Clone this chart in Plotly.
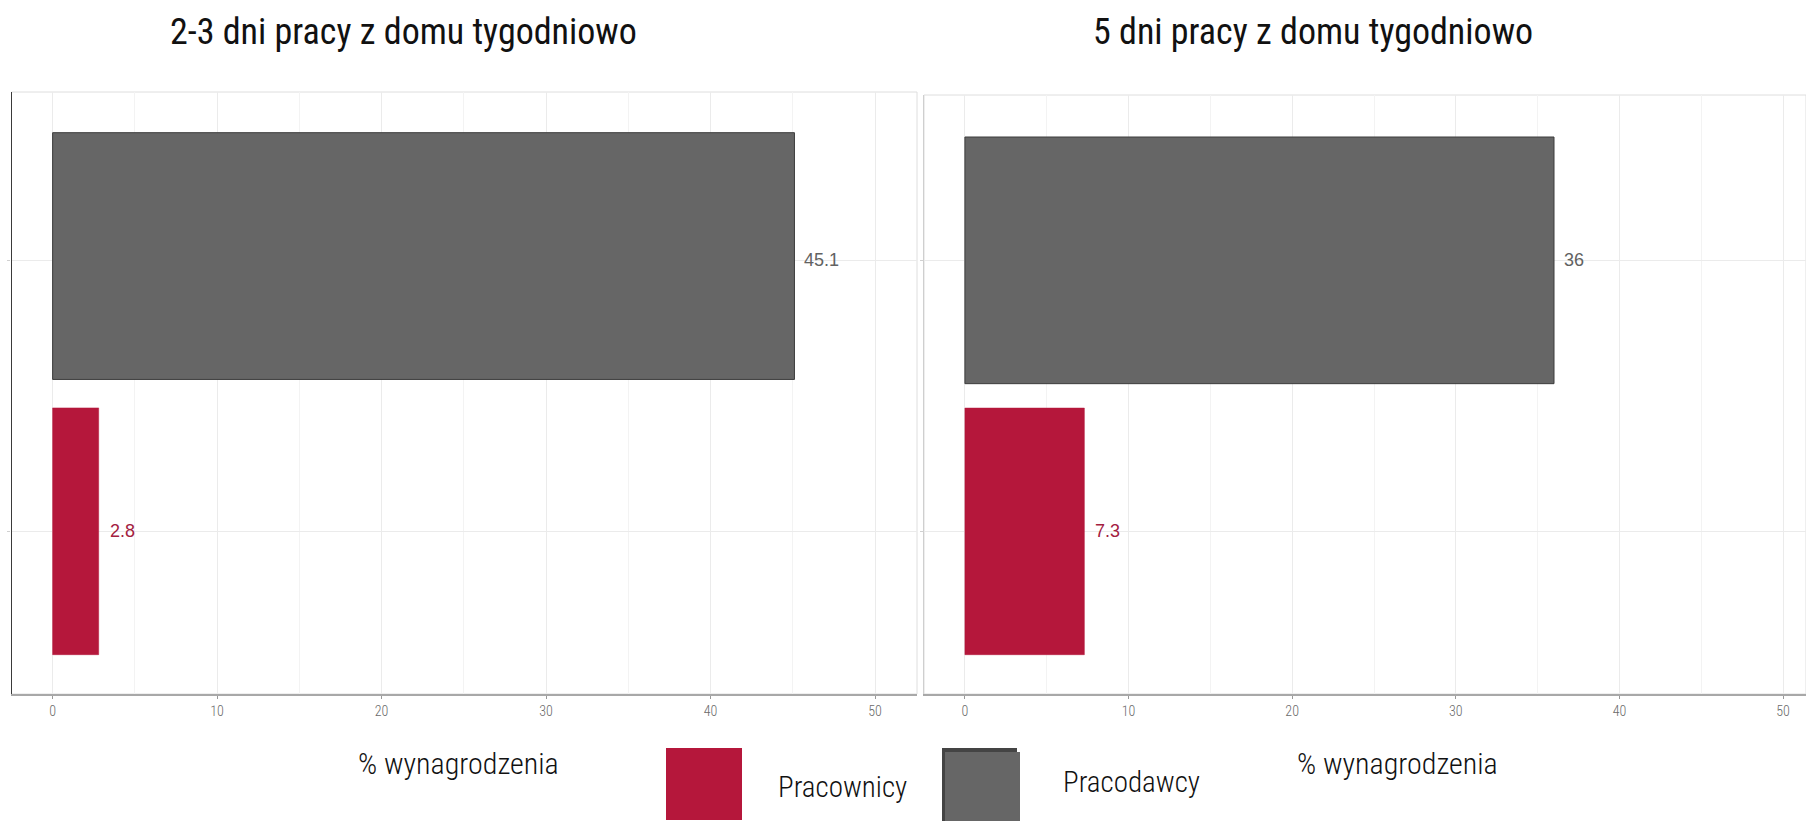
import plotly.graph_objects as go

# ---- data ----
categories = ["Pracownicy", "Pracodawcy"]
series_names = ["Pracownicy", "Pracodawcy"]
panel_titles = ["2-3 dni pracy z domu tygodniowo", "5 dni pracy z domu tygodniowo"]
pracownicy_vals = [2.8, 7.3]     # left panel, right panel
pracodawcy_vals = [45.1, 36.0]
x_tickvals = [0, 10, 20, 30, 40, 50]
x_ticktext = ["0", "10", "20", "30", "40", "50"]
axis_title = "% wynagrodzenia"

RED = "#b5173b"
GRAY = "#666666"
W, H = 1806, 821
COND = "Roboto Condensed, Liberation Sans Narrow, DejaVu Sans Condensed, Arial Narrow, sans-serif"

fig = go.Figure()

panels = [
    dict(xa="x", ya="y", xdom=[11.5 / W, 917 / W], ydom=[1 - 694 / H, 1 - 92 / H],
         xrange=[-2.5, 52.55], yrange=[-0.6, 1.62], yline="#3a3a3a", goff=-0.44),
    dict(xa="x2", ya="y2", xdom=[924 / W, 1.0], ydom=[1 - 694 / H, 1 - 95 / H],
         xrange=[-2.5, 51.4], yrange=[-0.6, 1.61], yline="#cfcfcf", goff=-0.455),
]

for i, p in enumerate(panels):
    fig.add_trace(go.Bar(
        x=[pracodawcy_vals[i]], y=[categories[1]], orientation="h",
        marker=dict(color=GRAY, line=dict(color="#3d3d3d", width=1)),
        width=0.91, offset=p["goff"], name=series_names[1], showlegend=False,
        xaxis=p["xa"], yaxis=p["ya"]))
    fig.add_trace(go.Bar(
        x=[pracownicy_vals[i]], y=[categories[0]], orientation="h",
        marker=dict(color=RED, line=dict(color=RED, width=0.5)),
        width=0.91, name=series_names[0], showlegend=False,
        xaxis=p["xa"], yaxis=p["ya"]))
    # value labels
    fig.add_annotation(x=pracodawcy_vals[i], y=categories[1], xref=p["xa"], yref=p["ya"],
                       text=f"{pracodawcy_vals[i]:g}", showarrow=False, xanchor="left",
                       xshift=8, font=dict(family="Liberation Sans, Arial", size=18, color="#626262"))
    fig.add_annotation(x=pracownicy_vals[i], y=categories[0], xref=p["xa"], yref=p["ya"],
                       text=f"{pracownicy_vals[i]:g}", showarrow=False, xanchor="left",
                       xshift=9, font=dict(family="Liberation Sans, Arial", size=18, color="#a3203f"))
    # panel frame (light)
    fig.add_shape(type="rect", xref=f"{p['xa']} domain", yref=f"{p['ya']} domain",
                  x0=0, x1=1, y0=0, y1=1, line=dict(color="#dedede", width=1), layer="below")

axis_common_x = dict(
    tickvals=x_tickvals, ticktext=x_ticktext, showgrid=True, gridcolor="#ebebeb", gridwidth=1,
    minor=dict(dtick=5, tick0=5, showgrid=True, gridcolor="#f3f3f3", gridwidth=1),
    showline=True, linecolor="#a8a8a8", linewidth=1.5, ticks="outside", ticklen=3,
    tickcolor="#999999", tickfont=dict(family=COND, size=14, color="#6a6a6a", weight=300),
    zeroline=False, fixedrange=True)
axis_common_y = dict(
    type="category", categoryorder="array", categoryarray=categories,
    showgrid=True, gridcolor="#ebebeb", gridwidth=1, showticklabels=False,
    ticks="outside", ticklen=3, tickcolor="#d0d0d0", zeroline=False, showline=True, linewidth=1.2)

fig.update_layout(
    xaxis=dict(domain=panels[0]["xdom"], range=panels[0]["xrange"], anchor="y", **axis_common_x),
    yaxis=dict(domain=panels[0]["ydom"], range=panels[0]["yrange"], anchor="x",
               linecolor=panels[0]["yline"], **axis_common_y),
    xaxis2=dict(domain=panels[1]["xdom"], range=panels[1]["xrange"], anchor="y2", **axis_common_x),
    yaxis2=dict(domain=panels[1]["ydom"], range=panels[1]["yrange"], anchor="x2",
                linecolor=panels[1]["yline"], **axis_common_y),
    barmode="overlay",
    width=W, height=H, margin=dict(l=0, r=0, t=0, b=0),
    paper_bgcolor="white", plot_bgcolor="white", showlegend=False,
)

# panel titles
for cx, t in zip([403, 1313], panel_titles):
    fig.add_annotation(x=cx / W, y=1 - 32 / H, xref="paper", yref="paper", text=t,
                       showarrow=False, xanchor="center", yanchor="middle",
                       font=dict(family=COND, size=36, color="#111111", weight=400))

# axis titles
for cx in [458, 1397]:
    fig.add_annotation(x=cx / W, y=1 - 763 / H, xref="paper", yref="paper", text=axis_title,
                       showarrow=False, xanchor="center", yanchor="middle",
                       font=dict(family=COND, size=30, color="#111111", weight=300))

# legend (drawn manually to reproduce the large swatches)
legend_items = [(666, 742, RED, series_names[0], 842, 787),
                (942, 1020, GRAY, series_names[1], 1131, 782)]
for x0, x1, col, name, tx, ty in legend_items:
    if col == GRAY:
        fig.add_shape(type="rect", xref="paper", yref="paper", x0=x0 / W, x1=(x1 - 3) / W,
                      y0=1 - 821 / H, y1=1 - 748 / H, fillcolor="#444444", line=dict(width=0))
        fig.add_shape(type="rect", xref="paper", yref="paper", x0=(x0 + 3) / W, x1=x1 / W,
                      y0=1 - 821 / H, y1=1 - 752 / H, fillcolor=col, line=dict(width=0))
    else:
        fig.add_shape(type="rect", xref="paper", yref="paper", x0=x0 / W, x1=x1 / W,
                      y0=1 - 820 / H, y1=1 - 748 / H, fillcolor=col, line=dict(width=0))
    fig.add_annotation(x=tx / W, y=1 - ty / H, xref="paper", yref="paper", text=name,
                       showarrow=False, xanchor="center", yanchor="middle",
                       font=dict(family=COND, size=29, color="#111111", weight=300))

fig.write_html("out.html")
